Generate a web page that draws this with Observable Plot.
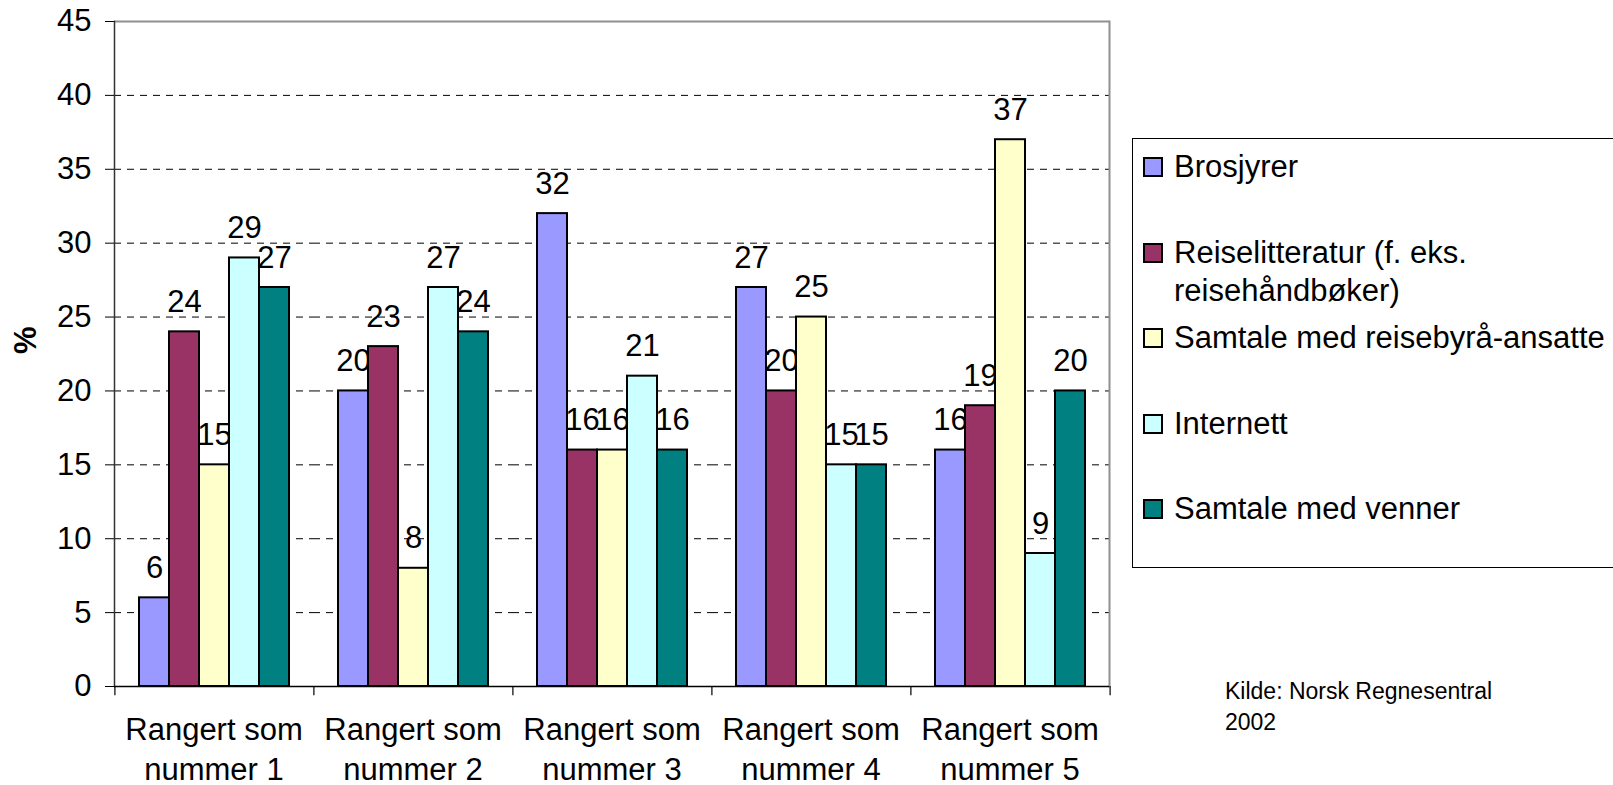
<!DOCTYPE html>
<html>
<head>
<meta charset="utf-8">
<script src="https://cdn.jsdelivr.net/npm/d3@7"></script>
<script src="https://cdn.jsdelivr.net/npm/@observablehq/plot@0.6"></script>
<style>
  html, body { margin: 0; padding: 0; background: #fff; overflow: hidden; }
  #wrap { position: relative; width: 1613px; height: 785px; font-family: "Liberation Sans", Arial, sans-serif; }
  #legend { position: absolute; left: 1132px; top: 138px; width: 540px; height: 430px; border: 1px solid #000; box-sizing: border-box; background: #fff; }
  .item { position: absolute; left: 10px; font-size: 31px; line-height: 38px; color: #000; }
  .sw { position: absolute; left: 0; top: 9px; width: 20px; height: 20px; border: 2px solid #000; box-sizing: border-box; }
  .lbl { position: absolute; left: 31px; top: 0; width: 460px; white-space: normal; }
  #source { position: absolute; left: 1225px; top: 676px; font-size: 23px; line-height: 31px; white-space: pre-line; color: #000; }
</style>
</head>
<body>
<div id="wrap"></div>
<script>
// ---- data ----
const categories = [
  "Rangert som nummer 1",
  "Rangert som nummer 2",
  "Rangert som nummer 3",
  "Rangert som nummer 4",
  "Rangert som nummer 5"
];
const series = [
  "Brosjyrer",
  "Reiselitteratur (f. eks. reisehåndbøker)",
  "Samtale med reisebyrå-ansatte",
  "Internett",
  "Samtale med venner"
];
const brosjyrer       = [6, 20, 32, 27, 16];
const reiselitteratur = [24, 23, 16, 20, 19];
const reisebyraa      = [15, 8, 16, 25, 37];
const internett       = [29, 27, 21, 15, 9];
const venner          = [27, 24, 16, 15, 20];
const yTicks = [0, 5, 10, 15, 20, 25, 30, 35, 40, 45];
const gridLines = [5, 10, 15, 20, 25, 30, 35, 40];
const colors = ["#9999FF", "#993366", "#FFFFCC", "#CCFFFF", "#008080"];
const yLabel = "%";
const sourceText = "Kilde: Norsk Regnesentral\n2002";

// ---- table ----
const seriesValues = [brosjyrer, reiselitteratur, reisebyraa, internett, venner];
const data = [];
categories.forEach((c, ci) => {
  series.forEach((s, si) => data.push({category: c, series: s, value: seriesValues[si][ci]}));
});

// ---- layout ----
const W = 1613, H = 785;
const mL = 113, mR = 504, mT = 21, mB = 99;
const facetW = (W - mL - mR) / categories.length;

const chart = Plot.plot({
  width: W, height: H,
  marginLeft: mL, marginRight: mR, marginTop: mT, marginBottom: mB,
  style: {fontFamily: "'Liberation Sans', Arial, sans-serif", background: "#fff", color: "#000"},
  fx: {domain: categories, padding: 0, axis: null},
  x: {domain: series, paddingInner: 0, paddingOuter: 0.77, axis: null},
  y: {domain: [0, 45], axis: null},
  color: {domain: series, range: colors},
  marks: [
    Plot.ruleY(gridLines, {y: d => d, stroke: "#000", strokeWidth: 1, strokeDasharray: "7,6"}),
    Plot.ruleY([45], {y: d => d, stroke: "#909090", strokeWidth: 2}),
    Plot.frame({anchor: "right", stroke: "#909090", strokeWidth: 2, facetAnchor: "right"}),
    Plot.frame({anchor: "left", stroke: "#333", strokeWidth: 1.5, facetAnchor: "left"}),
    // category boundary ticks
    Plot.ruleX([series[2]], {x: d => d, y1: 0, y2: -0.62, dx: -facetW / 2, stroke: "#000", strokeWidth: 1.2}),
    Plot.ruleX([series[2]], {x: d => d, y1: 0, y2: -0.62, dx: facetW / 2, stroke: "#000", strokeWidth: 1.2, facetAnchor: "right"}),
    // value labels (under bars, as in reference)
    Plot.text(data, {fx: "category", x: "series", y: "value", text: d => String(d.value),
      dy: -20, lineAnchor: "bottom", fontSize: 31, fill: "#000"}),
    Plot.barY(data, {fx: "category", x: "series", y: "value", fill: "series",
      stroke: "#000", strokeWidth: 2}),
    Plot.ruleY([0], {y: d => d, stroke: "#000", strokeWidth: 1.5}),
    Plot.axisY({ticks: yTicks, tickSize: 9, tickPadding: 14, fontSize: 31, label: null, tickFormat: d => String(d)}),
    Plot.axisFx({anchor: "bottom", tickSize: 0, tickPadding: 25, fontSize: 31, lineHeight: 1.29, label: null,
      tickFormat: d => d.replace(" nummer", "\nnummer")}),
    Plot.text([yLabel], {text: d => d, frameAnchor: "left", dx: -88, rotate: -90, fontSize: 31,
      fontWeight: "bold", fill: "#000", facetAnchor: "left"})
  ]
});

const wrap = document.getElementById("wrap");
wrap.appendChild(chart);

// ---- legend ----
const legend = document.createElement("div");
legend.id = "legend";
const itemTops = [9, 95, 180, 266, 351];
series.forEach((s, i) => {
  const it = document.createElement("div");
  it.className = "item";
  it.style.top = itemTops[i] + "px";
  const sw = document.createElement("div");
  sw.className = "sw";
  sw.style.background = colors[i];
  const lb = document.createElement("div");
  lb.className = "lbl";
  lb.textContent = s;
  it.appendChild(sw);
  it.appendChild(lb);
  legend.appendChild(it);
});
wrap.appendChild(legend);

const src = document.createElement("div");
src.id = "source";
src.textContent = sourceText;
wrap.appendChild(src);
</script>
</body>
</html>
